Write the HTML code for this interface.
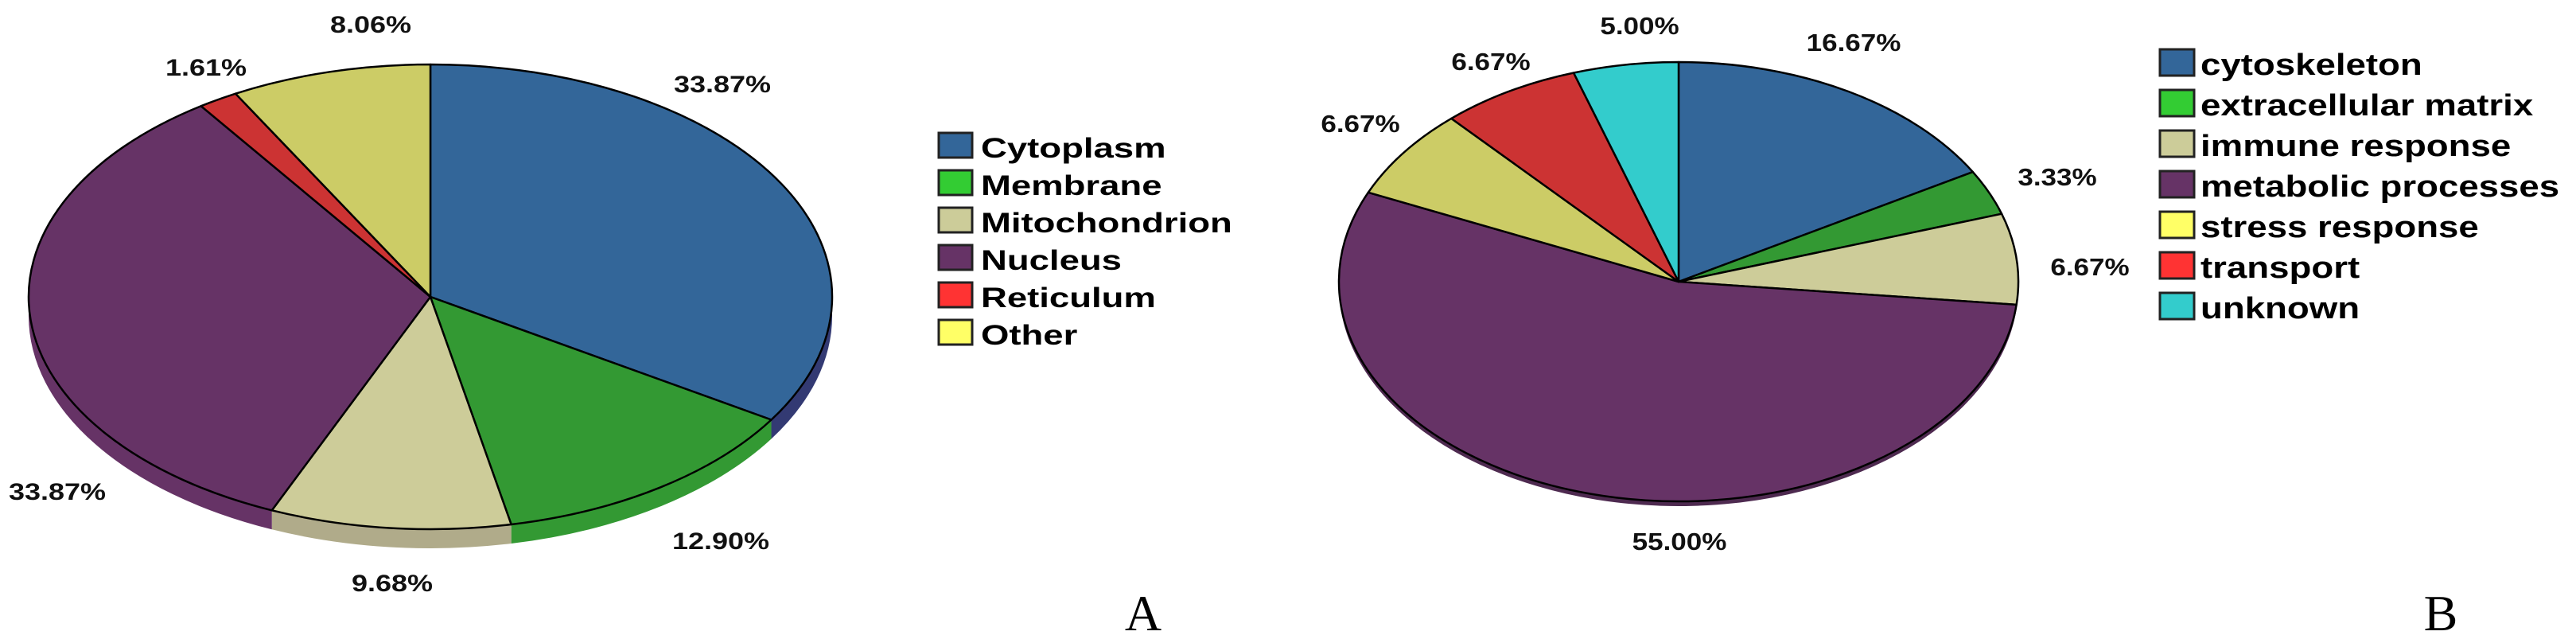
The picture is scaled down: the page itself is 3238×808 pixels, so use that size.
<!DOCTYPE html>
<html>
<head>
<meta charset="utf-8">
<style>
html,body{margin:0;padding:0;background:#fff;}
svg{display:block;}
text{font-family:"Liberation Sans",Arial,sans-serif;}
</style>
</head>
<body>
<svg id="chart" width="3238" height="808" viewBox="0 0 3238 808" xmlns="http://www.w3.org/2000/svg">
  <g id="pieA"></g>
  <g id="legendA"></g>
  <g id="pieB"></g>
  <g id="legendB"></g>
  <text x="1437" y="792" text-anchor="middle" style="font-family:'Liberation Serif',serif;font-size:64px;" fill="#000">A</text>
  <text x="3068" y="792" text-anchor="middle" style="font-family:'Liberation Serif',serif;font-size:64px;" fill="#000">B</text>
</svg>
<script>
// ---- Chart A data ----
const categoriesA = ["Cytoplasm","Membrane","Mitochondrion","Nucleus","Reticulum","Other"];
const valuesA = [33.87, 12.90, 9.68, 33.87, 1.61, 8.06];
const labelsA = ["33.87%","12.90%","9.68%","33.87%","1.61%","8.06%"];
// ---- Chart B data ----
const categoriesB = ["cytoskeleton","extracellular matrix","immune response","metabolic processes","stress response","transport","unknown"];
const valuesB = [16.67, 3.33, 6.67, 55.00, 6.67, 6.67, 5.00];
const labelsB = ["16.67%","3.33%","6.67%","55.00%","6.67%","6.67%","5.00%"];

// ---- styles / layout ----
const sliceColA = ["#336699","#339933","#cdcc99","#663366","#cc3333","#cccc66"];
const sideColA  = ["#333a73","#339933","#b0ab8a","#663366","#993333","#999955"];
const legColA   = ["#336699","#33cc33","#cccc99","#663366","#ff3333","#ffff66"];
const labelPosA = [[908,116],[906,690],[493,743],[72,628],[259,95],[466,41]];

const sliceColB = ["#336699","#339933","#cdcc99","#663366","#cccc66","#cc3333","#33cccc"];
const sideColB  = ["#2e3a70","#2d7a2d","#a9a680","#4e2a50","#999955","#993333","#2a9999"];
const legColB   = ["#336699","#33cc33","#cccc99","#663366","#ffff66","#ff3333","#33cccc"];
const labelPosB = [[2330,64],[2586,233],[2627,346],[2111,691],[1710,166],[1874,88],[2061,43]];

const NS = "http://www.w3.org/2000/svg";
function mk(tag, attrs, parent){
  const e = document.createElementNS(NS, tag);
  for (const k in attrs) e.setAttribute(k, attrs[k]);
  parent.appendChild(e);
  return e;
}

function drawPie(g, geo, cats, vals, cols, sides, labels, lpos, lblScale, lblSize, key){
  const total = vals.reduce((a,b)=>a+b,0);
  const P = (a, dy) => [geo.cx + geo.rx*Math.sin(a), geo.cy - geo.ry*Math.cos(a) + (dy||0)];
  let acc = 0;
  const angs = vals.map(v => { const a0 = acc/total*2*Math.PI; acc += v; return [a0, acc/total*2*Math.PI]; });
  if (geo.depth > 0) {
    angs.forEach((ab, i) => {
      const s = Math.max(ab[0], Math.PI/2), e = Math.min(ab[1], 3*Math.PI/2);
      if (e <= s) return;
      const p0 = P(s), p1 = P(e), p2 = P(e, geo.depth), p3 = P(s, geo.depth);
      const d = `M${p0[0]},${p0[1]} A${geo.rx},${geo.ry} 0 0 1 ${p1[0]},${p1[1]} L${p2[0]},${p2[1]} A${geo.rx},${geo.ry} 0 0 0 ${p3[0]},${p3[1]} Z`;
      const el = mk("path", {d: d, fill: sides[i], stroke: "none"}, g);
      
      
    });
  }
  angs.forEach((ab, i) => {
    const p0 = P(ab[0]), p1 = P(ab[1]);
    const large = (ab[1]-ab[0]) > Math.PI ? 1 : 0;
    const d = `M${geo.cx},${geo.cy} L${p0[0]},${p0[1]} A${geo.rx},${geo.ry} 0 ${large} 1 ${p1[0]},${p1[1]} Z`;
    const el = mk("path", {d: d, fill: cols[i], stroke: "#000", "stroke-width": 2.5, "stroke-linejoin": "round"}, g);
    
    
  });
  labels.forEach((t, i) => {
    const pos = lpos[i];
    const grp = mk("g", {transform: `translate(${pos[0]},${pos[1]}) scale(${lblScale},1)`}, g);
    const el = mk("text", {x: 0, y: 0, "text-anchor": "middle", "font-size": lblSize, "font-weight": "bold", fill: "#111"}, grp);
    el.textContent = t;
    
    
  });
}

function drawLegend(g, lg, cats, cols){
  cats.forEach((c, i) => {
    const y = lg.y0 + i*lg.step;
    const r = mk("rect", {x: lg.x, y: y, width: lg.bw, height: lg.bh, fill: cols[i], stroke: "#222", "stroke-width": 3}, g);
    
    
    const grp = mk("g", {transform: `translate(${lg.tx},${y + lg.base}) scale(${lg.sx},1)`}, g);
    const t = mk("text", {x: 0, y: 0, "font-size": lg.fs, "font-weight": "bold", fill: "#000"}, grp);
    t.textContent = c;
    
    
  });
}

drawPie(document.getElementById("pieA"), {cx:541, cy:373, rx:505, ry:292, depth:24},
        categoriesA, valuesA, sliceColA, sideColA, labelsA, labelPosA, 1.2, 30, "a");
drawPie(document.getElementById("pieB"), {cx:2110, cy:354, rx:427, ry:276, depth:6},
        categoriesB, valuesB, sliceColB, sideColB, labelsB, labelPosB, 1.13, 31, "b");
drawLegend(document.getElementById("legendA"), {x:1180, y0:167, step:47, bw:42, bh:31, tx:1233, base:31, sx:1.3, fs:35}, categoriesA, legColA);
drawLegend(document.getElementById("legendB"), {x:2715, y0:62, step:51, bw:43, bh:33, tx:2766, base:32, sx:1.2, fs:38}, categoriesB, legColB);
</script>
</body>
</html>
